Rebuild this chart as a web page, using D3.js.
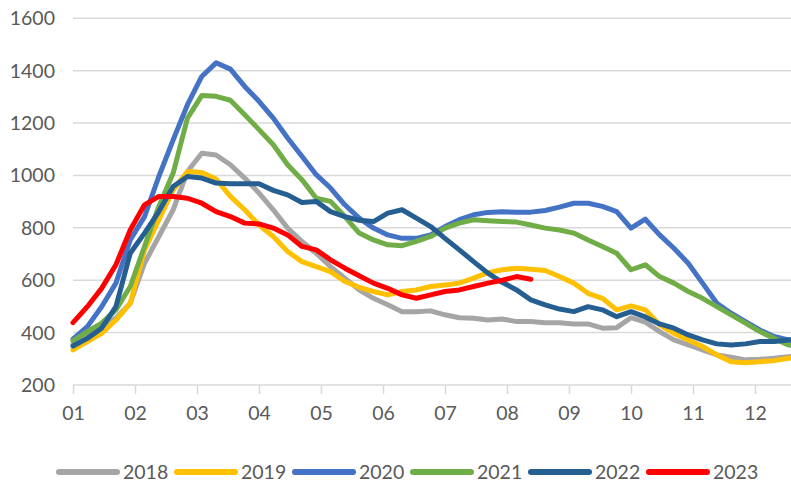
<!DOCTYPE html>
<style>body { margin: 0; } svg { display: block; }</style>
<svg width="791" height="482"></svg>
<script src="https://d3js.org/d3.v7.min.js"></script>
<script>

var svg = d3.select("svg"),
    width = +svg.attr("width"),
    height = +svg.attr("height");

var YEARS = ["2018", "2019", "2020", "2021", "2022", "2023"];
var COLORS = ["#A5A5A5", "#FFC000", "#4472C4", "#70AD47", "#255E91", "#FF0000"];
var MONTHS = [1, 2, 3, 4, 5, 6, 7, 8, 9, 10, 11, 12];
var Y_TICKS = [200, 400, 600, 800, 1000, 1200, 1400, 1600];

// weekly values
var s2018 = [355, 390, 425, 455, 512, 665, 767, 869, 1015, 1085, 1078, 1041, 990, 933, 869, 799, 748, 703, 652, 608,
  563, 531, 506, 480, 480, 483, 468, 457, 455, 448, 452, 442, 442, 438, 438, 433, 433, 417, 419, 457,
  440, 404, 372, 353, 334, 315, 306, 296, 298, 302, 308, 312];
var s2019 = [334, 366, 397, 448, 512, 716, 831, 945, 1015, 1011, 986, 920, 869, 811, 767, 710, 671, 652, 633, 595,
  573, 557, 544, 557, 563, 576, 582, 589, 608, 629, 640, 646, 642, 637, 614, 589, 550, 531, 487, 502,
  487, 430, 397, 372, 347, 315, 289, 285, 289, 293, 302, 310];
var s2020 = [375, 423, 499, 589, 754, 843, 996, 1136, 1270, 1378, 1430, 1406, 1340, 1283, 1219, 1143, 1073, 1003, 952, 888,
  837, 799, 773, 760, 760, 773, 805, 831, 850, 859, 861, 860, 860, 866, 879, 894, 894, 882, 862, 799,
  833, 773, 722, 665, 589, 512, 474, 442, 410, 385, 372, 360];
var s2021 = [369, 404, 436, 487, 576, 729, 882, 1009, 1219, 1305, 1302, 1287, 1232, 1175, 1117, 1041, 984, 913, 901, 843,
  780, 754, 735, 732, 748, 767, 799, 818, 831, 827, 824, 822, 811, 799, 792, 780, 754, 729, 703, 640,
  659, 614, 589, 557, 531, 499, 468, 436, 404, 378, 353, 340];
var s2022 = [349, 378, 417, 499, 703, 780, 862, 958, 996, 990, 971, 968, 968, 968, 943, 926, 897, 901, 862, 843,
  829, 824, 856, 869, 837, 805, 760, 716, 671, 627, 592, 563, 525, 506, 490, 480, 499, 487, 461, 480,
  460, 433, 417, 391, 372, 357, 353, 357, 366, 366, 372, 375];
var s2023 = [438, 499, 569, 659, 792, 888, 920, 920, 913, 894, 862, 843, 818, 815, 799, 773, 729, 716, 678, 646,
  617, 589, 569, 544, 531, 544, 557, 563, 576, 589, 600, 614, 604];

var SERIES = [s2018, s2019, s2020, s2021, s2022, s2023];

var FONT = "Lato, 'Open Sans', sans-serif";
var TEXT = "#595959";
var GRID = "#D9D9D9";

var x = d3.scaleLinear()
    .domain([1, 12])
    .range([73, 755]);

var y = d3.scaleLinear()
    .domain([200, 1600])
    .range([385, 18.3]);

// week index -> month position
function weekPos(i) { return 1 + i * 12 / 52; }

// gridlines
svg.append("g")
  .selectAll("line")
  .data(Y_TICKS.slice(1))
  .enter().append("line")
    .attr("x1", x(1))
    .attr("x2", width)
    .attr("y1", function(d) { return y(d); })
    .attr("y2", function(d) { return y(d); })
    .attr("stroke", GRID)
    .attr("stroke-width", 1.5);

// y labels
svg.append("g")
  .selectAll("text")
  .data(Y_TICKS)
  .enter().append("text")
    .attr("x", 55)
    .attr("y", function(d) { return y(d); })
    .attr("dy", "0.36em")
    .attr("text-anchor", "end")
    .attr("fill", TEXT)
    .attr("font-family", FONT)
    .attr("font-size", 19.5)
    .text(function(d) { return d; });

// x axis
var xAxis = svg.append("g")
    .attr("transform", "translate(0," + y(200) + ")")
    .call(d3.axisBottom(x)
      .tickValues(MONTHS)
      .tickSize(9)
      .tickPadding(12)
      .tickFormat(d3.format("02d")));

xAxis.select(".domain").remove();
xAxis.insert("line", ":first-child")
    .attr("x1", x(1))
    .attr("x2", width)
    .attr("stroke", GRID)
    .attr("stroke-width", 1.5);
xAxis.selectAll(".tick line")
    .attr("stroke", GRID)
    .attr("stroke-width", 1.5);
xAxis.selectAll(".tick text")
    .attr("fill", TEXT)
    .attr("font-family", FONT)
    .attr("font-size", 19.5);

// series lines
var line = d3.line()
    .x(function(d, i) { return x(weekPos(i)); })
    .y(function(d) { return y(d); });

svg.append("g")
  .selectAll("path")
  .data(SERIES)
  .enter().append("path")
    .attr("fill", "none")
    .attr("stroke", function(d, i) { return COLORS[i]; })
    .attr("stroke-width", 5)
    .attr("stroke-linejoin", "round")
    .attr("stroke-linecap", "round")
    .attr("d", line);

// legend
var legend = svg.append("g")
    .attr("transform", "translate(59,472)");

var item = legend.selectAll("g")
  .data(YEARS)
  .enter().append("g")
    .attr("transform", function(d, i) { return "translate(" + (i * 118) + ",0)"; });

item.append("line")
    .attr("x1", 0)
    .attr("x2", 58)
    .attr("stroke", function(d, i) { return COLORS[i]; })
    .attr("stroke-width", 6)
    .attr("stroke-linecap", "round");

item.append("text")
    .attr("x", 64)
    .attr("dy", "0.36em")
    .attr("fill", TEXT)
    .attr("font-family", FONT)
    .attr("font-size", 19.5)
    .text(function(d) { return d; });

</script>
